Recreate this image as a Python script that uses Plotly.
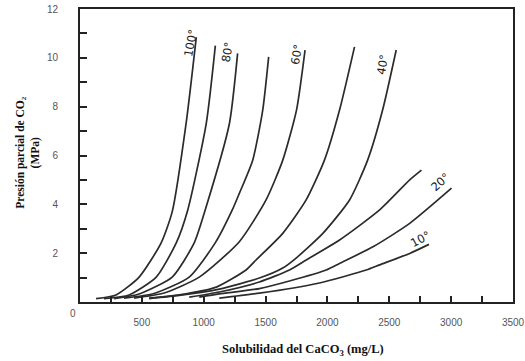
import plotly.graph_objects as go

# Solubility of CaCO3 (mg/L) vs CO2 partial pressure (MPa), one curve per temperature
temps = [100, 90, 80, 70, 60, 50, 40, 30, 20, 10]

x_100 = [130, 292, 478, 656, 745, 859, 940]
y_100 = [0.14, 0.29, 1.02, 2.42, 3.69, 7.37, 10.85]

x_90 = [194, 397, 616, 778, 871, 1021, 1094]
y_90 = [0.14, 0.29, 1.02, 2.42, 3.77, 7.33, 10.5]

x_80 = [276, 478, 745, 923, 1012, 1207, 1274]
y_80 = [0.14, 0.33, 1.02, 2.42, 3.77, 7.29, 10.18]

x_70 = [356, 599, 883, 1093, 1231, 1288, 1396, 1477, 1525]
y_70 = [0.16, 0.35, 1.02, 2.42, 3.77, 4.45, 5.81, 7.86, 10.04]

x_60 = [437, 680, 964, 1288, 1504, 1639, 1750, 1819]
y_60 = [0.16, 0.37, 1.02, 2.47, 4.18, 5.81, 7.86, 10.32]

x_50 = [559, 802, 1102, 1342, 1423, 1639, 1828, 1976, 2098, 2219]
y_50 = [0.16, 0.29, 0.61, 1.31, 1.72, 2.81, 4.18, 5.81, 7.86, 10.45]

x_40 = [559, 802, 1126, 1450, 1639, 1747, 1963, 2179, 2325, 2446, 2556]
y_40 = [0.14, 0.27, 0.53, 0.98, 1.39, 1.80, 2.81, 4.18, 5.81, 7.86, 10.32]

x_30 = [883, 1126, 1450, 1693, 1828, 2098, 2422, 2665, 2760]
y_30 = [0.20, 0.41, 0.82, 1.31, 1.72, 2.54, 3.77, 5.0, 5.4]

x_20 = [964, 1126, 1450, 1693, 1990, 2098, 2368, 2665, 3003]
y_20 = [0.20, 0.33, 0.55, 0.86, 1.31, 1.58, 2.26, 3.22, 4.66]

x_10 = [1126, 1450, 1936, 2314, 2422, 2665, 2821]
y_10 = [0.16, 0.36, 0.78, 1.31, 1.52, 1.99, 2.36]

curves_x = [x_100, x_90, x_80, x_70, x_60, x_50, x_40, x_30, x_20, x_10]
curves_y = [y_100, y_90, y_80, y_70, y_60, y_50, y_40, y_30, y_20, y_10]

x_tickvals = [250, 500, 750, 1000, 1250, 1500, 1750, 2000, 2250, 2500, 2750, 3000, 3250, 3500]
x_ticktext = ["", "500", "", "1000", "", "1500", "", "2000", "", "2500", "", "3000", "", "3500"]
y_tickvals = [1, 2, 3, 4, 5, 6, 7, 8, 9, 10, 11, 12]
y_ticktext = ["", "2", "", "4", "", "6", "", "8", "", "10", "", "12"]

labeled = ["100°", "80°", "60°", "40°", "20°", "10°"]
# label placement (data coords) and rotation
label_pos = [(895, 10.6, -80), (1191, 10.24, -80), (1750, 10.11, -80),
             (2446, 9.7, -80), (2912, 4.92, -42), (2752, 2.6, -28)]

fig = go.Figure()
for t, xs, ys in zip(temps, curves_x, curves_y):
    fig.add_trace(go.Scatter(
        x=xs, y=ys, mode="lines", name=f"{t}°",
        line=dict(color="#2b2b2b", width=1.7, shape="spline", smoothing=0.6),
        showlegend=False, hoverinfo="skip"))

lab_font = dict(family="DejaVu Sans", size=11.5, color="#222")
for txt, (lx, ly, ang) in zip(labeled, label_pos):
    fig.add_annotation(x=lx, y=ly, xref="x", yref="y", text=txt, showarrow=False,
                       textangle=ang, font=lab_font, xanchor="center", yanchor="middle")

tick_font = dict(family="Liberation Sans", size=10, color="#555")
axis_common = dict(showgrid=False, zeroline=False, showline=True, linecolor="#222",
                   linewidth=2, mirror=True, ticks="inside", tickcolor="#222",
                   tickwidth=2, tickfont=tick_font, automargin=False)

fig.update_xaxes(range=[0, 3500], tickmode="array", tickvals=x_tickvals,
                 ticktext=x_ticktext, ticklen=6, ticklabelstandoff=10, **axis_common)
fig.update_yaxes(range=[0, 12], tickmode="array", tickvals=y_tickvals,
                 ticktext=y_ticktext, ticklen=7, ticklabelstandoff=18, **axis_common)

# origin label
fig.add_annotation(x=-0.016, y=-0.04, xref="paper", yref="paper", text="0",
                   showarrow=False, font=tick_font, xanchor="center", yanchor="middle")

title_font = dict(family="Liberation Serif", size=11.5, color="#111")
fig.add_annotation(x=-0.122, y=0.51, xref="paper", yref="paper",
                   text="<b>Presión parcial de CO₂<br>(MPa)</b>", showarrow=False,
                   textangle=-90, font=title_font, xanchor="center", yanchor="middle")
fig.add_annotation(x=0.515, y=-0.164, xref="paper", yref="paper",
                   text="<b>Solubilidad del CaCO<sub>3</sub> (mg/L)</b>", showarrow=False,
                   font=dict(family="Liberation Serif", size=12.5, color="#111"),
                   xanchor="center", yanchor="middle")

fig.update_layout(width=525, height=361,
                  margin=dict(l=80, r=12, t=9, b=59),
                  paper_bgcolor="white", plot_bgcolor="white")

fig.write_html("out.html", config={"displayModeBar": False},
               post_script="document.body.style.margin='0';document.body.style.overflow='hidden';")
